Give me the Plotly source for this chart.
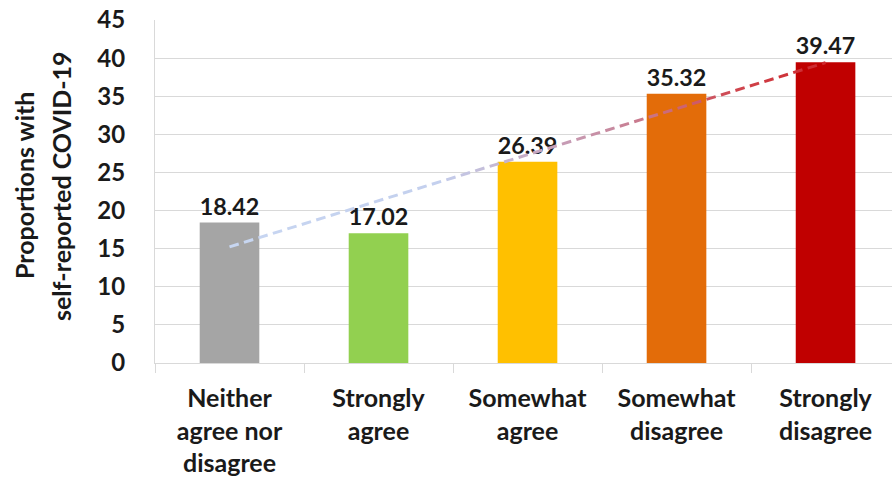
import numpy as np
import plotly.graph_objects as go

categories = ["Neither<br>agree nor<br>disagree", "Strongly<br>agree", "Somewhat<br>agree",
              "Somewhat<br>disagree", "Strongly<br>disagree"]
values = [18.42, 17.02, 26.39, 35.32, 39.47]
bar_colors = ["#a5a5a5", "#92d050", "#ffc000", "#e36c09", "#c00000"]
y_ticks = [0, 5, 10, 15, 20, 25, 30, 35, 40, 45]
y_title_lines = ["Proportions with", "self-reported COVID-19"]

# Colour stops along the trend line (fraction of length -> RGB)
trend_stops = [0.0, 0.35, 0.64, 0.87, 1.0]
trend_rgb = [(200, 215, 242), (196, 208, 238), (200, 138, 160), (208, 64, 72), (205, 40, 45)]

FONT = "Lato"
TEXT = "#1a1a1a"
W, H = 892, 479
ML, MR, MT, MB = 155, 0, 20, 116

fig = go.Figure()
fig.add_trace(go.Bar(
    x=categories, y=values, width=0.4,
    marker=dict(color=bar_colors, line=dict(width=0)),
    text=[f"{v:.2f}" for v in values], textposition="outside",
    textfont=dict(family=FONT, size=24, color=TEXT, weight="bold"),
    cliponaxis=False, showlegend=False, hoverinfo="skip",
))

# Linear trend line, drawn as dashes whose colour shifts from pale blue to red
idx = np.arange(len(values))
slope, intercept = np.polyfit(idx, values, 1)
stops_rgb = np.array(trend_rgb, dtype=float)
dash, gap = 0.062, 0.035
pos = 0.0
total = float(idx[-1])
while pos < total:
    a, b = pos, min(pos + dash, total)
    t = (a + b) / 2 / total
    rgb = [int(np.interp(t, trend_stops, stops_rgb[:, k])) for k in range(3)]
    xs = [a, b]
    fig.add_trace(go.Scatter(
        x=xs, y=[slope * v + intercept for v in xs], mode="lines",
        line=dict(color=f"rgb({rgb[0]},{rgb[1]},{rgb[2]})", width=3),
        xaxis="x2", showlegend=False, hoverinfo="skip",
    ))
    pos += dash + gap

# Two-line rotated y-axis title, placed line by line for wider spacing
plot_w = W - ML - MR
plot_h = H - MT - MB
for line, px in zip(y_title_lines, [24, 61]):
    fig.add_annotation(
        text=line, textangle=-90, showarrow=False,
        xref="paper", yref="paper",
        x=(px - ML) / plot_w, y=(H - MB - 186) / plot_h,
        xanchor="center", yanchor="middle",
        font=dict(family=FONT, size=25, color=TEXT, weight="bold"),
    )

fig.update_layout(
    width=W, height=H,
    margin=dict(l=ML, r=MR, t=MT, b=MB),
    paper_bgcolor="white", plot_bgcolor="white",
    font=dict(family=FONT, color=TEXT),
    bargap=0.6,
    xaxis=dict(
        type="category", range=[-0.5, 4.446],
        tickson="boundaries", ticks="outside", ticklen=9, tickcolor="#d9d9d9",
        showline=True, linecolor="#d9d9d9", linewidth=1,
        showgrid=False, zeroline=False, ticklabelstandoff=13,
        tickfont=dict(family=FONT, size=25, color=TEXT, weight="bold"),
    ),
    xaxis2=dict(range=[-0.5, 4.446], overlaying="x", visible=False),
    yaxis=dict(
        range=[0, 45], tickvals=y_ticks, showgrid=True, gridcolor="#d9d9d9", gridwidth=1,
        showline=True, linecolor="#d9d9d9", zeroline=False,
        ticks="", ticklabelstandoff=24,
        tickfont=dict(family=FONT, size=24, color=TEXT, weight="bold"),
    ),
)

fig.write_html("out.html")
